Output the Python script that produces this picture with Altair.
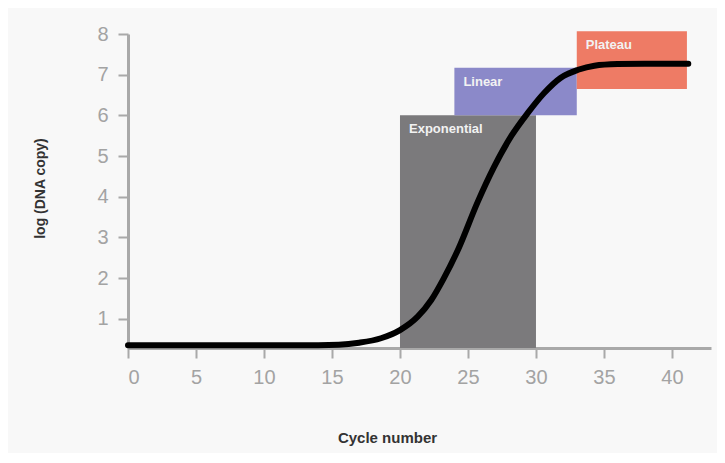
import altair as alt
import pandas as pd

# Amplification curve
cycle = [0, 10, 14, 15.5, 17, 18.6, 20, 21.3, 22.3, 23.2, 24.3, 25.7, 26.9, 28.2, 29.4, 30.6, 31.8, 33.1, 34.3, 36, 38, 41.2]
log_copy = [0.35, 0.35, 0.35, 0.36, 0.41, 0.52, 0.72, 1.05, 1.46, 1.98, 2.72, 3.86, 4.72, 5.50, 6.06, 6.55, 6.92, 7.12, 7.22, 7.26, 7.27, 7.27]

# Phase boxes
phases = ["Exponential", "Linear", "Plateau"]
phase_x1 = [20, 24, 33]
phase_x2 = [30, 33, 41.1]
phase_y1 = [0.28, 6.0, 6.65]
phase_y2 = [6.0, 7.17, 8.07]
phase_colors = ["#7b7a7c", "#8b89c9", "#ee7b65"]

x_ticks = [0, 5, 10, 15, 20, 25, 30, 35, 40]
y_ticks = [1, 2, 3, 4, 5, 6, 7, 8]

curve = pd.DataFrame({"cycle": cycle, "log": log_copy})
boxes = pd.DataFrame({"phase": phases, "x1": phase_x1, "x2": phase_x2,
                      "y1": phase_y1, "y2": phase_y2})

xscale = alt.Scale(domain=[0, 42.87], nice=False, zero=False)
yscale = alt.Scale(domain=[0.28, 8], nice=False, zero=False)

font = "Liberation Sans"

xaxis = alt.Axis(values=x_ticks, title="Cycle number", grid=False,
                 domainColor="#a9a9a9", domainWidth=3, tickColor="#a9a9a9",
                 tickWidth=2, tickSize=10, labelColor="#a3a3a3", labelFontSize=20,
                 labelFont=font, labelPadding=9, titleFont=font, titleFontSize=15,
                 titleFontWeight="bold", titleColor="#333333",
                 titleX=259, titleY=89, titleBaseline="middle", titleAlign="center")
yaxis = alt.Axis(values=y_ticks, title="log (DNA copy)", grid=False,
                 domainColor="#a9a9a9", domainWidth=3, tickColor="#a9a9a9",
                 tickWidth=2, tickSize=10, labelColor="#a3a3a3", labelFontSize=20,
                 labelFont=font, labelPadding=10, titleFont=font, titleFontSize=14,
                 titleFontWeight="bold", titleColor="#333333", titleAngle=-90,
                 titleX=-88, titleY=154, titleBaseline="middle", titleAlign="center")

rects = alt.Chart(boxes).mark_rect().encode(
    x=alt.X("x1:Q", scale=xscale, axis=xaxis),
    x2="x2:Q",
    y=alt.Y("y1:Q", scale=yscale, axis=yaxis),
    y2="y2:Q",
    color=alt.Color("phase:N", scale=alt.Scale(domain=phases, range=phase_colors), legend=None),
)

labels = alt.Chart(boxes).mark_text(
    align="left", baseline="middle", dx=9, dy=14, font=font, fontSize=13,
    fontWeight="bold", color="#f2f2f2"
).encode(
    x=alt.X("x1:Q", scale=xscale),
    y=alt.Y("y2:Q", scale=yscale),
    text="phase:N",
)

line = alt.Chart(curve).mark_line(
    color="black", strokeWidth=6, interpolate="monotone", strokeCap="round"
).encode(
    x=alt.X("cycle:Q", scale=xscale),
    y=alt.Y("log:Q", scale=yscale),
)

chart = alt.layer(rects, labels, line).properties(
    width=583, height=314,
    autosize=alt.AutoSizeParams(type="none"),
    padding={"left": 120, "top": 26, "right": 6, "bottom": 105},
    background="#f8f8f8",
).configure_view(stroke=None, fill="#f8f8f8")

chart.save("out.html", embed_options={"renderer": "svg", "actions": False})
